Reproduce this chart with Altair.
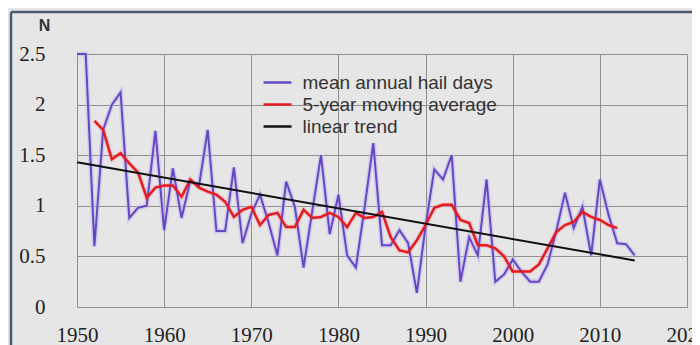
import altair as alt
import pandas as pd

years = list(range(1950, 2015))
hail_days = [2.5, 2.5, 0.6, 1.75, 2.0, 2.12, 0.88, 0.98, 1.0, 1.74,
             0.76, 1.37, 0.88, 1.25, 1.2, 1.75, 0.75, 0.75, 1.38, 0.63,
             0.92, 1.11, 0.83, 0.51, 1.24, 0.99, 0.39, 0.95, 1.5, 0.72,
             1.11, 0.51, 0.39, 0.98, 1.62, 0.61, 0.61, 0.76, 0.63, 0.14,
             0.8, 1.36, 1.26, 1.5, 0.25, 0.69, 0.51, 1.26, 0.25, 0.32,
             0.47, 0.35, 0.25, 0.25, 0.42, 0.75, 1.13, 0.78, 0.99, 0.51,
             1.26, 0.91, 0.63, 0.62, 0.51]

ma_years = list(range(1952, 2013))
moving_avg = [1.84, 1.75, 1.46, 1.52, 1.42, 1.33, 1.08, 1.18,
              1.2, 1.2, 1.09, 1.26, 1.18, 1.14, 1.11, 1.04, 0.89, 0.96,
              0.99, 0.81, 0.91, 0.93, 0.79, 0.79, 0.96, 0.88, 0.89, 0.93,
              0.89, 0.79, 0.93, 0.88, 0.89, 0.94, 0.69, 0.56, 0.54, 0.66,
              0.81, 0.98, 1.01, 1.01, 0.86, 0.83, 0.61, 0.61, 0.58, 0.5,
              0.35, 0.35, 0.35, 0.42, 0.58, 0.74, 0.81, 0.84, 0.94, 0.89,
              0.86, 0.81, 0.78]

trend_years = [1950, 2014]
trend_vals = [1.43, 0.46]

series_names = ["mean annual hail days", "5-year moving average", "linear trend"]
series_colors = ["#6547c4", "#e31b23", "#111111"]

x_ticks = [1950, 1960, 1970, 1980, 1990, 2000, 2010, 2020]
y_ticks = [0, 0.5, 1, 1.5, 2, 2.5]

df_hail = pd.DataFrame({"year": years, "value": hail_days, "series": series_names[0]})
df_ma = pd.DataFrame({"year": ma_years, "value": moving_avg, "series": series_names[1]})
df_tr = pd.DataFrame({"year": trend_years, "value": trend_vals, "series": series_names[2]})

x_enc = alt.X("year:Q", scale=alt.Scale(domain=[1950, 2020], nice=False),
              axis=alt.Axis(values=x_ticks, format="d", title=None, grid=True,
                            gridColor="#8f8f8f", gridWidth=1, domain=False, ticks=False,
                            labelFont="Liberation Serif", labelFontSize=21,
                            labelColor="#222222", labelPadding=17, labelFlush=False))
y_enc = alt.Y("value:Q", scale=alt.Scale(domain=[0, 2.5], nice=False),
              axis=alt.Axis(values=y_ticks, format="~g", title="N", grid=True,
                            gridColor="#8f8f8f", gridWidth=1, domain=False, ticks=False,
                            labelFont="Liberation Serif", labelFontSize=21,
                            labelColor="#222222", labelPadding=32,
                            titleAngle=0, titleX=-33, titleY=-24, titleAlign="center",
                            titleBaseline="alphabetic", titleFont="Liberation Sans",
                            titleFontSize=16, titleFontWeight="bold", titleColor="#333333"))

color_enc = alt.Color("series:N",
                      scale=alt.Scale(domain=series_names, range=series_colors),
                      legend=alt.Legend(title=None, orient="none", legendX=188.5, legendY=16.5,
                                        symbolType="M-1.333,0H1.333", symbolSize=441,
                                        symbolStrokeWidth=2.5, labelFont="Liberation Sans",
                                        labelFontSize=19, labelColor="#333333", labelLimit=0,
                                        labelOffset=13, rowPadding=0, padding=0))

halo_hail = alt.Chart(df_hail).mark_line(color="#c6b9f0", strokeWidth=5, opacity=0.6).encode(x=x_enc, y=y_enc)
halo_ma = alt.Chart(df_ma).mark_line(color="#f3a3ab", strokeWidth=5, opacity=0.45).encode(x=x_enc, y=y_enc)
line_hail = alt.Chart(df_hail).mark_line(strokeWidth=2).encode(x=x_enc, y=y_enc, color=color_enc)
line_ma = alt.Chart(df_ma).mark_line(strokeWidth=2.5).encode(x=x_enc, y=y_enc, color=color_enc)
line_tr = alt.Chart(df_tr).mark_line(strokeWidth=2).encode(x=x_enc, y=y_enc, color=color_enc)

frame_data = alt.Data(values=[{}])
frame_left = alt.Chart(frame_data).mark_rule(color="#4d5b70", strokeWidth=2.5).encode(
    x=alt.value(-66), y=alt.value(-42), y2=alt.value(300))
frame_top = alt.Chart(frame_data).mark_rule(color="#4d5b70", strokeWidth=2.5).encode(
    x=alt.value(-66), x2=alt.value(630), y=alt.value(-42))

chart = alt.layer(halo_hail, halo_ma, line_hail, line_ma, line_tr, frame_left, frame_top).properties(
    width=610, height=253,
    autosize=alt.AutoSizeParams(type="none"),
    padding={"left": 69, "top": 46, "right": 5, "bottom": 38},
).configure(background="#e6e6e6").configure_view(stroke=None)

chart.save("out.html", embed_options={"renderer": "svg", "actions": False})
